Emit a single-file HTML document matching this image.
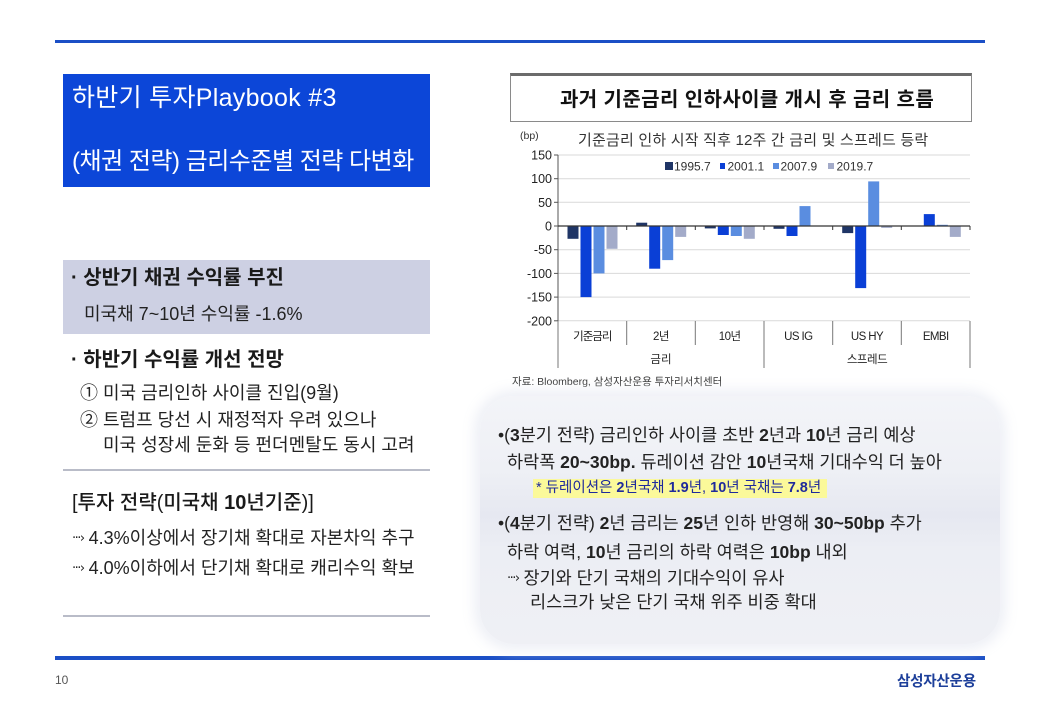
<!DOCTYPE html>
<html lang="ko">
<head>
<meta charset="utf-8">
<style>
  html,body{margin:0;padding:0;background:#fff;}
  body{width:1040px;height:720px;position:relative;overflow:hidden;
       font-family:"Liberation Sans","Noto Sans CJK KR",sans-serif;color:#1a1a1a;}
  .a{position:absolute;white-space:nowrap;}
  .b{font-weight:bold;}
  .arr{font-family:"DejaVu Sans",sans-serif;font-size:13px;letter-spacing:-1.5px;vertical-align:2px;}
</style>
</head>
<body>

<!-- top & bottom blue lines -->
<div class="a" style="left:55px;top:40px;width:930px;height:3px;background:#1b4fc6;"></div>
<div class="a" style="left:55px;top:656px;width:930px;height:4px;background:#1b4fc6;"></div>

<!-- title box -->
<div class="a" style="left:63px;top:74px;width:367px;height:113px;background:#0c46d8;"></div>
<div class="a" style="left:72px;top:84px;line-height:28px;font-size:25px;color:#fff;letter-spacing:0.3px;">하반기 투자Playbook #3</div>
<div class="a" style="left:72px;top:148px;line-height:28px;font-size:24px;color:#fff;letter-spacing:-0.5px;">(채권 전략) 금리수준별 전략 다변화</div>

<!-- gray box -->
<div class="a" style="left:63px;top:260px;width:367px;height:74px;background:#cdd0e3;"></div>
<div class="a b" style="left:71px;top:265px;line-height:26px;font-size:20px;">· 상반기 채권 수익률 부진</div>
<div class="a" style="left:84px;top:302px;line-height:24px;font-size:18px;color:#222;">미국채 7~10년 수익률 -1.6%</div>

<div class="a b" style="left:71px;top:347px;line-height:26px;font-size:20px;">· 하반기 수익률 개선 전망</div>
<div class="a" style="left:80px;top:381px;line-height:24px;font-size:18px;color:#222;">① 미국 금리인하 사이클 진입(9월)</div>
<div class="a" style="left:80px;top:408px;line-height:24px;font-size:18px;color:#222;">② 트럼프 당선 시 재정적자 우려 있으나</div>
<div class="a" style="left:103px;top:433px;line-height:24px;font-size:18px;color:#222;">미국 성장세 둔화 등 펀더멘탈도 동시 고려</div>
<div class="a" style="left:63px;top:469px;width:367px;height:1.5px;background:#b9bcc8;"></div>

<div class="a" style="left:72px;top:490px;line-height:26px;font-size:20px;font-weight:500;">[투자 전략(미국채 <span class="b">10</span>년기준)]</div>
<div class="a" style="left:72px;top:526px;line-height:24px;font-size:18px;color:#222;"><span class="arr">···›</span> 4.3%이상에서 장기채 확대로 자본차익 추구</div>
<div class="a" style="left:72px;top:556px;line-height:24px;font-size:18px;color:#222;"><span class="arr">···›</span> 4.0%이하에서 단기채 확대로 캐리수익 확보</div>
<div class="a" style="left:63px;top:615px;width:367px;height:1.5px;background:#b9bcc8;"></div>

<!-- chart title box -->
<div class="a" style="left:510px;top:73px;width:460px;height:45px;border:1.5px solid #8a8a8a;border-top:3px solid #6b6b6b;"></div>
<div class="a b" style="left:560px;top:87px;line-height:26px;font-size:20px;color:#111;letter-spacing:0.4px;">과거 기준금리 인하사이클 개시 후 금리 흐름</div>

<!-- chart -->
<svg class="a" style="left:0;top:0;" width="1040" height="720" viewBox="0 0 1040 720">
  <g font-family="Liberation Sans, Noto Sans CJK KR, sans-serif">
  <text x="520" y="139" font-size="10.5" fill="#333">(bp)</text>
  <text x="578" y="145" font-size="15" fill="#333" letter-spacing="0.2">기준금리 인하 시작 직후 12주 간 금리 및 스프레드 등락</text>
  <!-- grid -->
  <g stroke="#d9d9d9" stroke-width="1">
    <line x1="558" y1="155" x2="970" y2="155"/>
    <line x1="558" y1="178.7" x2="970" y2="178.7"/>
    <line x1="558" y1="202.3" x2="970" y2="202.3"/>
    <line x1="558" y1="249.7" x2="970" y2="249.7"/>
    <line x1="558" y1="273.4" x2="970" y2="273.4"/>
    <line x1="558" y1="297.1" x2="970" y2="297.1"/>
    <line x1="558" y1="320.8" x2="970" y2="320.8"/>
  </g>
  <!-- y axis -->
  <line x1="558" y1="155" x2="558" y2="321" stroke="#555" stroke-width="1"/>
  <g stroke="#555" stroke-width="1">
    <line x1="554" y1="155" x2="558" y2="155"/>
    <line x1="554" y1="178.7" x2="558" y2="178.7"/>
    <line x1="554" y1="202.3" x2="558" y2="202.3"/>
    <line x1="554" y1="226" x2="558" y2="226"/>
    <line x1="554" y1="249.7" x2="558" y2="249.7"/>
    <line x1="554" y1="273.4" x2="558" y2="273.4"/>
    <line x1="554" y1="297.1" x2="558" y2="297.1"/>
    <line x1="554" y1="320.8" x2="558" y2="320.8"/>
  </g>
  <g font-size="12.5" fill="#222" text-anchor="end">
    <text x="552" y="159.5">150</text>
    <text x="552" y="183.2">100</text>
    <text x="552" y="206.8">50</text>
    <text x="552" y="230.5">0</text>
    <text x="552" y="254.2">-50</text>
    <text x="552" y="277.9">-100</text>
    <text x="552" y="301.6">-150</text>
    <text x="552" y="325.3">-200</text>
  </g>
  <!-- legend -->
  <rect x="665" y="162" width="8" height="8" fill="#1f3566"/>
  <text x="674" y="170.5" font-size="12" fill="#333">1995.7</text>
  <rect x="720" y="163" width="5" height="6" fill="#0a3fd6"/>
  <text x="727.5" y="170.5" font-size="12" fill="#333">2001.1</text>
  <rect x="773" y="163" width="6" height="6" fill="#5a8de0"/>
  <text x="780.5" y="170.5" font-size="12" fill="#333">2007.9</text>
  <rect x="828" y="163" width="6" height="6" fill="#a3abc9"/>
  <text x="836.5" y="170.5" font-size="12" fill="#333">2019.7</text>
  <!-- bars -->
  <g>
    <rect x="567.5" y="226" width="11" height="12.8" fill="#1f3566"/>
    <rect x="580.5" y="226" width="11" height="71.1" fill="#0a3fd6"/>
    <rect x="593.5" y="226" width="11" height="47.4" fill="#5a8de0"/>
    <rect x="606.5" y="226" width="11" height="22.8" fill="#a3abc9"/>
    <rect x="636.2" y="222.7" width="11" height="3.3" fill="#1f3566"/>
    <rect x="649.2" y="226" width="11" height="42.7" fill="#0a3fd6"/>
    <rect x="662.2" y="226" width="11" height="34.1" fill="#5a8de0"/>
    <rect x="675.2" y="226" width="11" height="10.9" fill="#a3abc9"/>
    <rect x="704.8" y="226" width="11" height="2.4" fill="#1f3566"/>
    <rect x="717.8" y="226" width="11" height="9" fill="#0a3fd6"/>
    <rect x="730.8" y="226" width="11" height="10" fill="#5a8de0"/>
    <rect x="743.8" y="226" width="11" height="12.8" fill="#a3abc9"/>
    <rect x="773.5" y="226" width="11" height="2.8" fill="#1f3566"/>
    <rect x="786.5" y="226" width="11" height="10" fill="#0a3fd6"/>
    <rect x="799.5" y="206.1" width="11" height="19.9" fill="#5a8de0"/>
    <rect x="842.2" y="226" width="11" height="7.1" fill="#1f3566"/>
    <rect x="855.2" y="226" width="11" height="62.1" fill="#0a3fd6"/>
    <rect x="868.2" y="181.4" width="11" height="44.6" fill="#5a8de0"/>
    <rect x="881.2" y="226" width="11" height="1.9" fill="#a3abc9"/>
    <rect x="923.8" y="214.1" width="11" height="11.9" fill="#0a3fd6"/>
    <rect x="936.8" y="224.8" width="11" height="1.2" fill="#5a8de0"/>
    <rect x="949.8" y="226" width="11" height="10.9" fill="#a3abc9"/>
  </g>
  <line x1="558" y1="226" x2="970" y2="226" stroke="#333" stroke-width="1.2"/>
  <g stroke="#333" stroke-width="1">
    <line x1="626.7" y1="226" x2="626.7" y2="230"/>
    <line x1="695.3" y1="226" x2="695.3" y2="230"/>
    <line x1="764" y1="226" x2="764" y2="230"/>
    <line x1="832.7" y1="226" x2="832.7" y2="230"/>
    <line x1="901.3" y1="226" x2="901.3" y2="230"/>
    <line x1="970" y1="226" x2="970" y2="230"/>
  </g>
  <g stroke="#777" stroke-width="1">
    <line x1="558" y1="321" x2="558" y2="368"/>
    <line x1="626.7" y1="321" x2="626.7" y2="345"/>
    <line x1="695.3" y1="321" x2="695.3" y2="345"/>
    <line x1="764" y1="321" x2="764" y2="368"/>
    <line x1="832.7" y1="321" x2="832.7" y2="345"/>
    <line x1="901.3" y1="321" x2="901.3" y2="345"/>
    <line x1="970" y1="321" x2="970" y2="368"/>
  </g>
  <g font-size="11.5" fill="#222" text-anchor="middle">
    <text x="592.3" y="340" letter-spacing="-1">기준금리</text>
    <text x="661" y="340" letter-spacing="-0.5">2년</text>
    <text x="729.7" y="340" letter-spacing="-0.5">10년</text>
    <text x="798.3" y="340" letter-spacing="-0.6">US IG</text>
    <text x="867" y="340" letter-spacing="-0.6">US HY</text>
    <text x="935.7" y="340" letter-spacing="-0.6">EMBI</text>
    <text x="661" y="363">금리</text>
    <text x="867" y="363" letter-spacing="-0.5">스프레드</text>
  </g>
  <text x="512" y="385" font-size="10.5" fill="#333">자료: Bloomberg, 삼성자산운용 투자리서치센터</text>
  </g>
</svg>

<!-- right text panel -->
<div class="a" style="left:480px;top:396px;width:520px;height:248px;border-radius:34px;background:linear-gradient(180deg,#f3f4f8 0%,#eef0f5 30%,#e6e8f1 48%,#eceef4 62%,#eff0f5 100%);box-shadow:0 0 12px 6px rgba(236,238,245,0.9);"></div>

<div class="a" style="left:498px;top:422px;line-height:26px;font-size:17.5px;color:#222;">•(<span class="b">3</span>분기 전략) 금리인하 사이클 초반 <span class="b">2</span>년과 <span class="b">10</span>년 금리 예상</div>
<div class="a" style="left:507px;top:449px;line-height:26px;font-size:17.5px;color:#222;">하락폭 <span class="b">20~30bp.</span> 듀레이션 감안 <span class="b">10</span>년국채 기대수익 더 높아</div>
<div class="a" style="left:533px;top:479px;width:294px;height:19px;background:#fbf99a;"></div>
<div class="a" style="left:536px;top:477px;line-height:22px;font-size:14.5px;color:#1f2a9c;">* 듀레이션은 <span class="b">2</span>년국채 <span class="b">1.9</span>년, <span class="b">10</span>년 국채는 <span class="b">7.8</span>년</div>
<div class="a" style="left:498px;top:510px;line-height:26px;font-size:17.5px;color:#222;">•(<span class="b">4</span>분기 전략) <span class="b">2</span>년 금리는 <span class="b">25</span>년 인하 반영해 <span class="b">30~50bp</span> 추가</div>
<div class="a" style="left:507px;top:539px;line-height:26px;font-size:17.5px;color:#222;">하락 여력, <span class="b">10</span>년 금리의 하락 여력은 <span class="b">10bp</span> 내외</div>
<div class="a" style="left:507px;top:565px;line-height:26px;font-size:17.5px;color:#222;"><span class="arr">···›</span> 장기와 단기 국채의 기대수익이 유사</div>
<div class="a" style="left:530px;top:589px;line-height:26px;font-size:17.5px;color:#222;">리스크가 낮은 단기 국채 위주 비중 확대</div>

<!-- footer -->
<div class="a" style="left:55px;top:672px;line-height:16px;font-size:12px;color:#555;">10</div>
<div class="a b" style="left:897px;top:671px;line-height:22px;font-size:14.5px;color:#1d3f9a;letter-spacing:-0.2px;">삼성자산운용</div>

</body>
</html>
